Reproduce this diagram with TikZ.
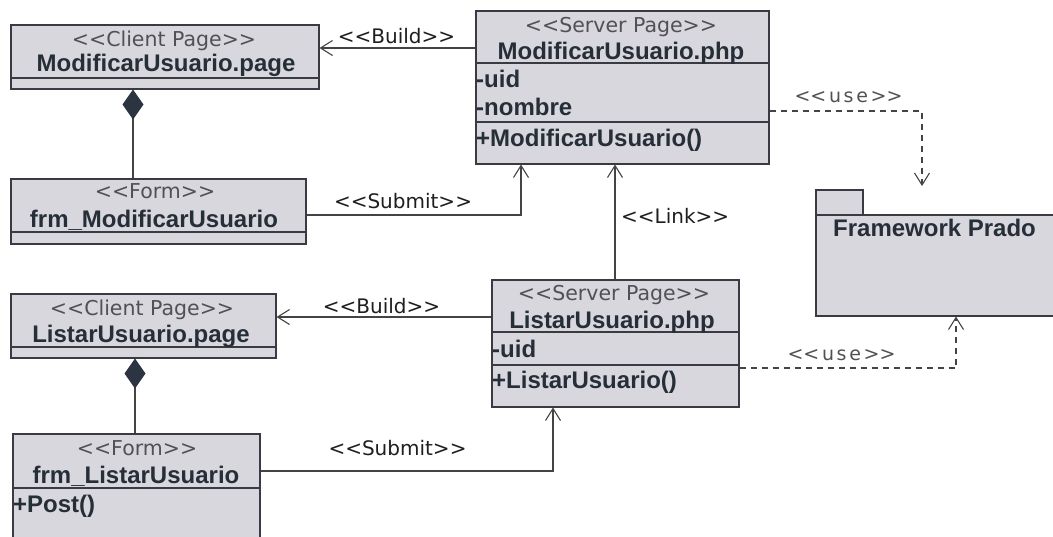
\documentclass[tikz,border=0pt]{standalone}
\usepackage{fontspec}
\usetikzlibrary{arrows.meta}

\newfontfamily\namefont{Liberation Sans}
\newfontfamily\tagfont{DejaVu Sans}
\newfontfamily\spacedfont{DejaVu Sans}[LetterSpace=14]

\definecolor{boxfill}{HTML}{D8D7DD}
\definecolor{boxline}{HTML}{3A3A42}
\definecolor{nametext}{HTML}{262E38}
\definecolor{tagtext}{HTML}{505056}
\definecolor{labeltext}{HTML}{1E1E1E}
\definecolor{wire}{HTML}{444444}
\definecolor{diamondfill}{HTML}{2C3442}

% stereotype guillemets written as two separate characters
\newcommand\guil[1]{<\kern0pt<#1>\kern0pt>}

\begin{document}
\begin{tikzpicture}[x=1pt,y=-1pt,
  umlbox/.style={draw=boxline, line width=1.5pt, fill=boxfill, inner sep=0pt,
                 anchor=north west},
  divider/.style={draw=boxline, line width=1.4pt},
  tag/.style={inner sep=0pt, anchor=base, text=tagtext,
              font=\tagfont\fontsize{20.5}{24}\selectfont},
  cname/.style={inner sep=0pt, anchor=base, text=nametext,
                font=\namefont\bfseries\fontsize{24}{28}\selectfont},
  member/.style={cname, anchor=base west},
  edgelabel/.style={inner sep=0pt, anchor=base, text=labeltext,
                    font=\tagfont\fontsize{20}{24}\selectfont},
  uselabel/.style={inner sep=0pt, anchor=base, text=tagtext,
                   font=\spacedfont\fontsize{19}{22}\selectfont},
  conn/.style={draw=wire, line width=1.2pt},
  opentip/.style={conn, -{Straight Barb[length=12pt,width=15pt,line width=1.1pt]}},
  dep/.style={opentip, dash pattern=on 6pt off 5pt},
  compose/.style={conn, {Diamond[length=30pt,width=21pt,fill=diamondfill,
                  color=diamondfill]}-}
]
\useasboundingbox (0,0) rectangle (1053,536);
\clip (0,0) rectangle (1053,536);

% ---------- ModificarUsuario: client page and form ----------
\node[umlbox, minimum width=308pt, minimum height=64pt] (cpA) at (10,24) {};
\draw[divider] (10,78) -- (318,78);
\node[tag]   (cpAtag)  at (164,46.5) {\guil{Client Page}};
\node[cname] (cpAname) at (166,71) {ModificarUsuario.page};

\node[umlbox, minimum width=295pt, minimum height=65pt] (frmA) at (10,178) {};
\draw[divider] (10,232) -- (305,232);
\node[tag]   (frmAtag)  at (155,198) {\guil{Form}};
\node[cname] (frmAname) at (154,227) {frm\_ModificarUsuario};

% ---------- ModificarUsuario.php ----------
\node[umlbox, minimum width=293pt, minimum height=153pt] (srvA) at (475,10) {};
\draw[divider] (475,63) -- (768,63);
\draw[divider] (475,122) -- (768,122);
\node[tag]    (srvAtag)  at (621,32) {\guil{Server Page}};
\node[cname]  (srvAname) at (621,59) {ModificarUsuario.php};
\node[member] (srvAuid)  at (476,87) {-uid};
\node[member] (srvAnom)  at (476,115) {-nombre};
\node[member] (srvAop)   at (476,146) {+ModificarUsuario()};

% ---------- package ----------
\node[umlbox, minimum width=47pt, minimum height=25pt] (pkgtab) at (815,189) {};
\node[umlbox, minimum width=260pt, minimum height=101pt] (pkg) at (815,214) {};
\node[member] (pkgname) at (833,236) {Framework Prado};

% ---------- ListarUsuario: client page and form ----------
\node[umlbox, minimum width=265pt, minimum height=64pt] (cpB) at (10,293) {};
\draw[divider] (10,347) -- (275,347);
\node[tag]   (cpBtag)  at (142,315) {\guil{Client Page}};
\node[cname] (cpBname) at (141,342) {ListarUsuario.page};

\node[umlbox, minimum width=247pt, minimum height=110pt] (frmB) at (12,433) {};
\draw[divider] (12,488) -- (259,488);
\node[tag]    (frmBtag)  at (137,455) {\guil{Form}};
\node[cname]  (frmBname) at (136,483) {frm\_ListarUsuario};
\node[member] (frmBop)   at (13,512) {+Post()};

% ---------- ListarUsuario.php ----------
\node[umlbox, minimum width=247pt, minimum height=127pt] (srvB) at (491,279) {};
\draw[divider] (491,332) -- (738,332);
\draw[divider] (491,365) -- (738,365);
\node[tag]    (srvBtag)  at (614,300) {\guil{Server Page}};
\node[cname]  (srvBname) at (612,328) {ListarUsuario.php};
\node[member] (srvBuid)  at (492,357) {-uid};
\node[member] (srvBop)   at (492,388) {+ListarUsuario()};

% ---------- connectors ----------
\draw[opentip] ([yshift=-38pt]srvA.north west) -- ([yshift=-38pt]srvA.north west -| cpA.east);
\draw[opentip] ([yshift=-37pt]frmA.north east) -| ([xshift=46pt]srvA.south west);
\draw[compose] ([xshift=123pt]cpA.south west) -- ([xshift=123pt]cpA.south west |- frmA.north);
\draw[opentip] ([xshift=124pt]srvB.north west) -- ([xshift=124pt]srvB.north west |- srvA.south);
\draw[dep] ([yshift=-101pt]srvA.north east) -| ([xshift=107pt,yshift=3pt]pkgtab.north west);

\draw[opentip] ([yshift=-38pt]srvB.north west) -- ([yshift=-38pt]srvB.north west -| cpB.east);
\draw[compose] ([xshift=125pt]cpB.south west) -- ([xshift=125pt]cpB.south west |- frmB.north);
\draw[opentip] ([yshift=-38pt]frmB.north east) -| ([xshift=62pt]srvB.south west);
\draw[dep] ([yshift=-89pt]srvB.north east) -| ([xshift=141pt]pkg.south west);

% ---------- connector labels ----------
\node[edgelabel] (lbBuildA)  at (396.5,43) {\guil{Build}};
\node[edgelabel] (lbSubmitA) at (403,208) {\guil{Submit}};
\node[edgelabel, anchor=base west] (lbLink) at (621,223) {\guil{Link}};
\node[uselabel]  (lbUseA)    at (848.5,102) {\guil{use}};
\node[edgelabel] (lbBuildB)  at (381.5,313) {\guil{Build}};
\node[edgelabel] (lbSubmitB) at (397.5,455) {\guil{Submit}};
\node[uselabel]  (lbUseB)    at (841.5,360) {\guil{use}};
\end{tikzpicture}
\end{document}
